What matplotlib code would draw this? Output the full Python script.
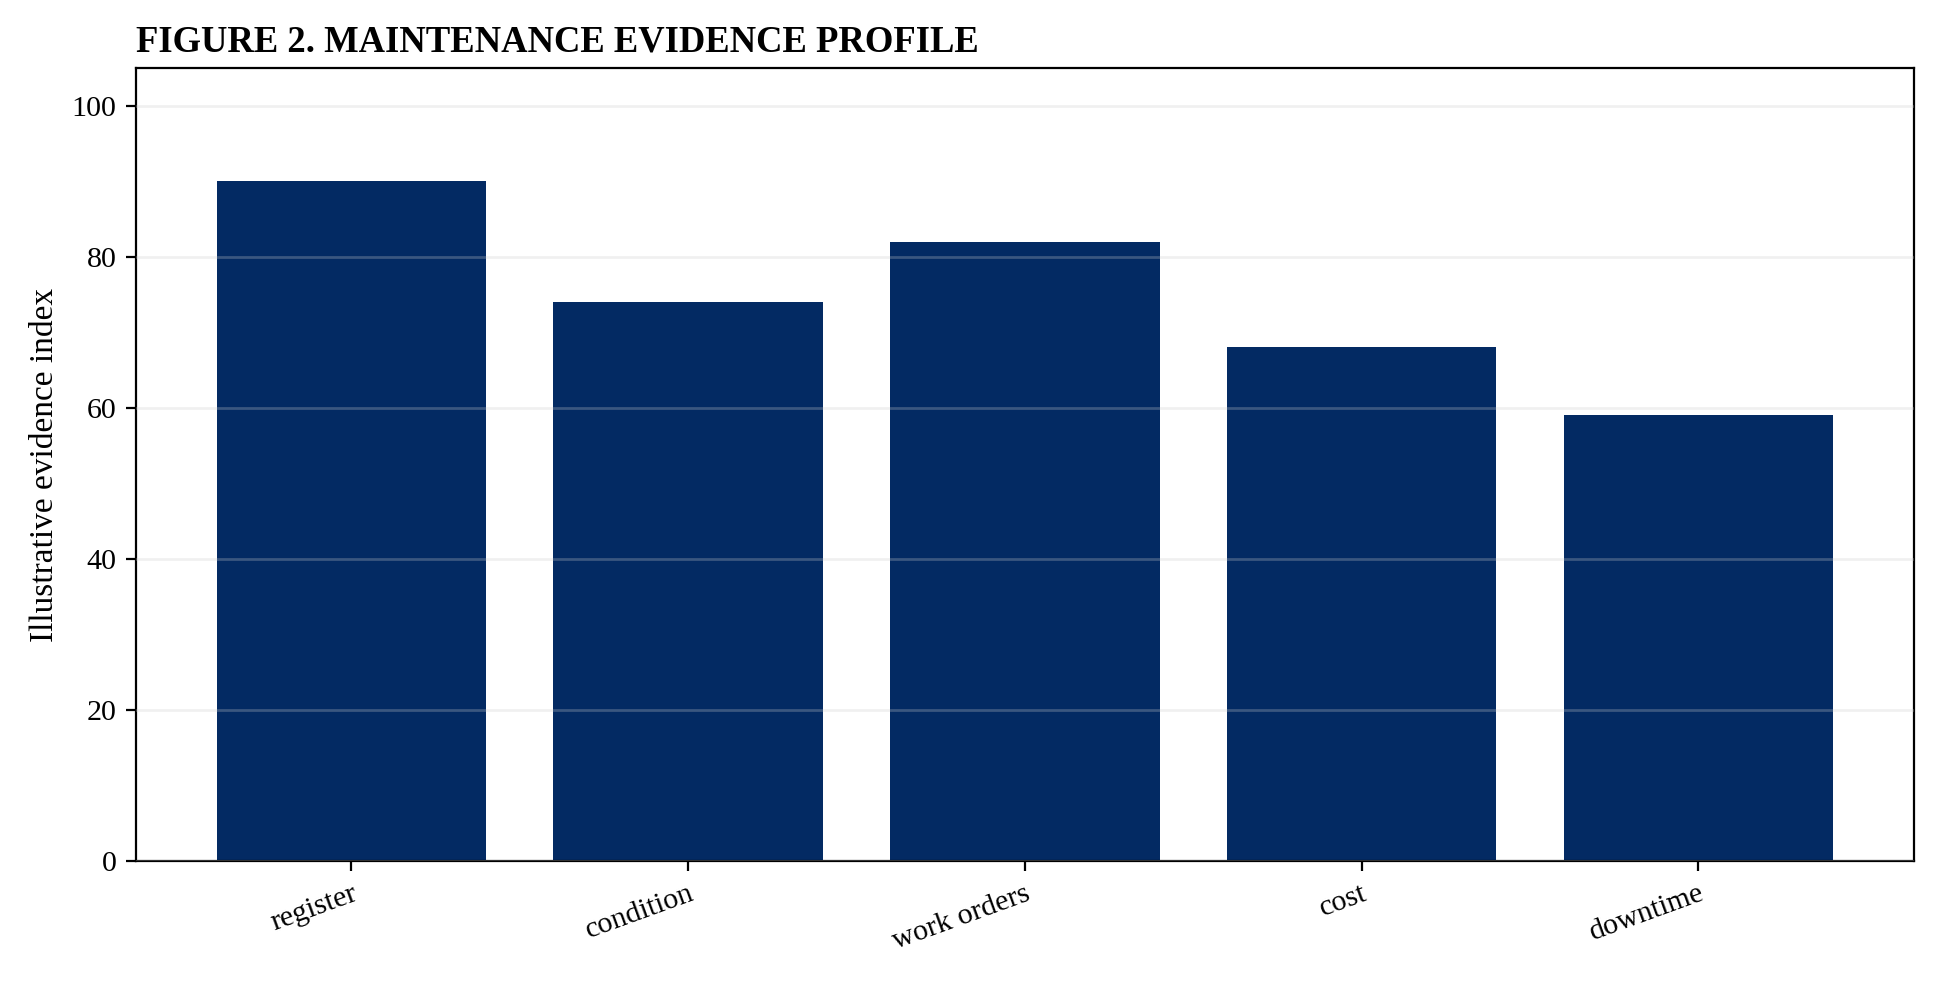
import matplotlib
matplotlib.use("Agg")
import matplotlib.pyplot as plt

categories = ["register", "condition", "work orders", "cost", "downtime"]
values = [90, 74, 82, 68, 59]

plt.rcParams['font.family'] = ['Liberation Serif', 'DejaVu Serif']

fig = plt.figure(figsize=(9.695, 4.915), dpi=200)
ax = fig.add_axes([0.0701, 0.124, 0.917, 0.807])

ax.bar(categories, values, width=0.8, color="#032a63", zorder=1)
ax.set_ylim(0, 105)
ax.set_yticks([0, 20, 40, 60, 80, 100])
ax.yaxis.grid(True, color="#cccccc", alpha=0.28, linewidth=1.0, zorder=2)
ax.set_axisbelow(False)
ax.tick_params(axis="both", labelsize=10.8)
plt.setp(ax.get_xticklabels(), rotation=20, ha="right", rotation_mode="anchor")
ax.set_ylabel("Illustrative evidence index", fontsize=12)
ax.set_title("FIGURE 2. MAINTENANCE EVIDENCE PROFILE", loc="left",
             fontsize=13.2, fontweight="bold")

fig.savefig("out.png", dpi=200)
